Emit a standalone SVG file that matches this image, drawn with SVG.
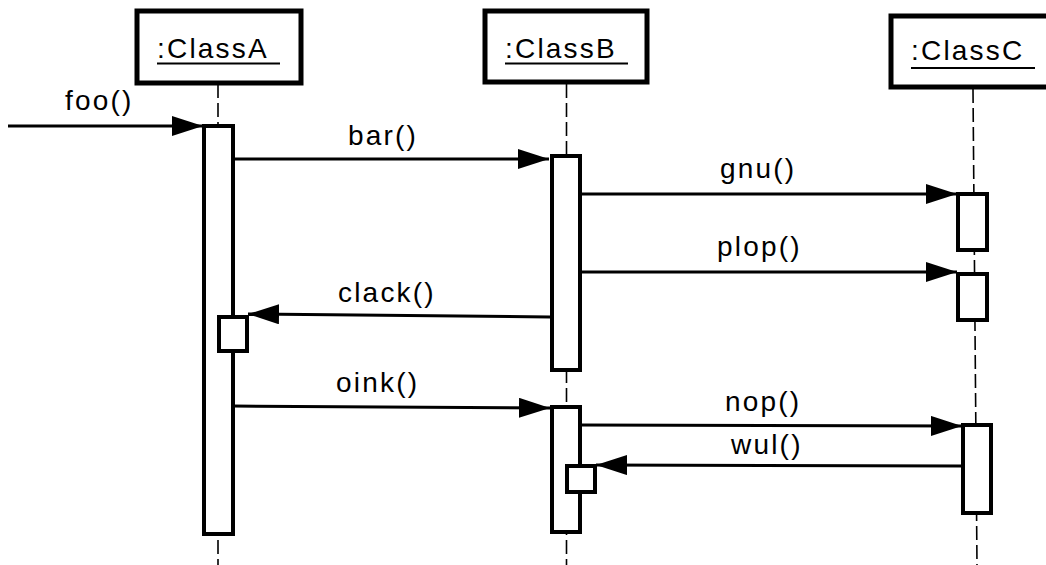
<svg xmlns="http://www.w3.org/2000/svg" width="1046" height="565" viewBox="0 0 1046 565">
<style>
.obj{fill:#fff;stroke:#000;stroke-width:5}
.act{fill:#fff;stroke:#000;stroke-width:4}
.life{stroke:#000;stroke-width:1.6;stroke-dasharray:14 5;fill:none}
.msg{stroke:#000;stroke-width:3;fill:none;marker-end:url(#ah)}
.ul{stroke:#000;stroke-width:2}
text{font-family:"Liberation Sans",Arial,sans-serif;font-size:28px;letter-spacing:2.2px;fill:#000}
</style>
<defs>
<marker id="ah" markerUnits="userSpaceOnUse" markerWidth="32" markerHeight="22" refX="31" refY="10" orient="auto">
<path d="M0,0 L31,10 L0,20 Z" fill="#000"/>
</marker>
</defs>
<g id="lifelines">
<line class="life" x1="218" y1="84" x2="218" y2="565"/>
<line class="life" x1="566.5" y1="84" x2="566.5" y2="565"/>
<line class="life" x1="973" y1="89" x2="977" y2="565"/>
</g>
<g id="classA">
<rect class="obj" x="137" y="11" width="164" height="72"/>
<text x="157" y="58">:ClassA</text>
<line class="ul" x1="157" y1="63.5" x2="280" y2="63.5"/>
</g>
<g id="classB">
<rect class="obj" x="485" y="11" width="162" height="71"/>
<text x="505" y="58">:ClassB</text>
<line class="ul" x1="505" y1="63.5" x2="628" y2="63.5"/>
</g>
<g id="classC">
<rect class="obj" x="891" y="16" width="170" height="71"/>
<text x="911" y="60">:ClassC</text>
<line class="ul" x1="911" y1="68" x2="1035" y2="68"/>
</g>
<g id="actA">
<rect class="act" x="204" y="126" width="29" height="408"/>
<rect class="act" x="219" y="317" width="28" height="34"/>
</g>
<g id="actB">
<rect class="act" x="552" y="156" width="28" height="214"/>
<rect class="act" x="552" y="407" width="28" height="125"/>
<rect class="act" x="567" y="466" width="28" height="26"/>
</g>
<g id="actC">
<rect class="act" x="958" y="194" width="29" height="56"/>
<rect class="act" x="958" y="274" width="29" height="46"/>
<rect class="act" x="963" y="425" width="28" height="88"/>
</g>
<g id="connectors">
<line class="msg" x1="8" y1="126" x2="203" y2="126"/>
<line class="msg" x1="233" y1="159" x2="549" y2="159"/>
<line class="msg" x1="578" y1="194" x2="957" y2="194"/>
<line class="msg" x1="578" y1="272" x2="957" y2="272"/>
<line class="msg" x1="550" y1="317" x2="248" y2="314"/>
<line class="msg" x1="233" y1="406" x2="550" y2="408"/>
<line class="msg" x1="580" y1="425" x2="962" y2="426"/>
<line class="msg" x1="962" y1="466" x2="596" y2="465"/>
</g>
<g id="labels">
<text x="65" y="110">foo()</text>
<text x="348" y="145">bar()</text>
<text x="720" y="178">gnu()</text>
<text x="717" y="256">plop()</text>
<text x="338" y="302">clack()</text>
<text x="336" y="392">oink()</text>
<text x="725" y="411">nop()</text>
<text x="731" y="454">wul()</text>
</g>
</svg>
